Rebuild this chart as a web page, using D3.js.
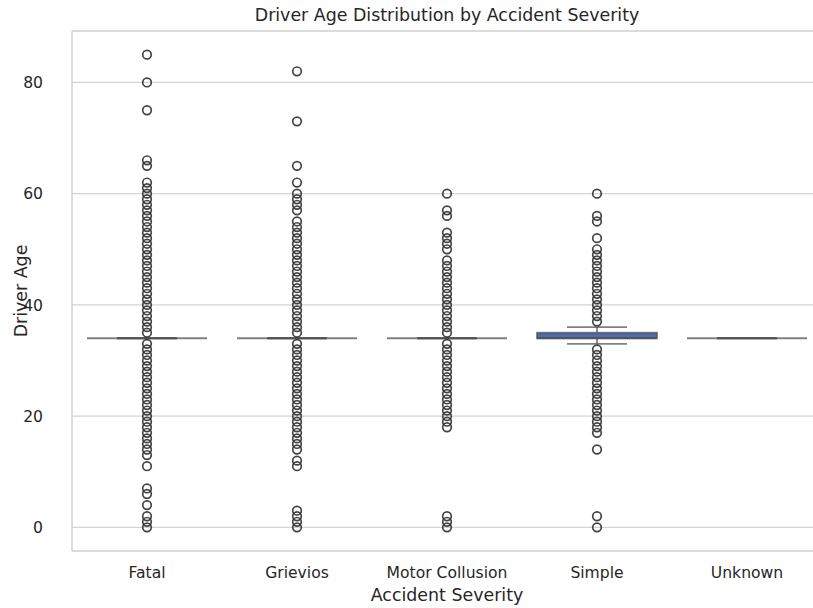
<!DOCTYPE html>
<html>
<head>
<meta charset="utf-8">
<script src="https://cdn.jsdelivr.net/npm/d3@7"></script>
<style>
  html, body { margin: 0; padding: 0; background: #fff; overflow: hidden; }
  svg { display: block; }
  svg text { font-family: "DejaVu Sans", sans-serif; fill: #262626; }
</style>
</head>
<body>
<div id="chart"></div>
<script>
    'use strict';

    var categories = ["Fatal", "Grievios", "Motor Collusion", "Simple", "Unknown"];
    var whiskerLow = [34, 34, 34, 33, 34];
    var q1 = [34, 34, 34, 34, 34];
    var medians = [34, 34, 34, 34, 34];
    var q3 = [34, 34, 34, 35, 34];
    var whiskerHigh = [34, 34, 34, 36, 34];

    var fatalOutliers = [85, 80, 75, 66, 65, 62, 61, 60, 59, 58, 57, 56, 55, 54, 53, 52, 51, 50,
        49, 48, 47, 46, 45, 44, 43, 42, 41, 40, 39, 38, 37, 36, 35, 33, 32, 31, 30, 29, 28, 27,
        26, 25, 24, 23, 22, 21, 20, 19, 18, 17, 16, 15, 14, 13, 11, 7, 6, 4, 2, 1, 0];
    var grieviosOutliers = [82, 73, 65, 62, 60, 59, 58, 57, 55, 54, 53, 52, 51, 50, 49, 48, 47,
        46, 45, 44, 43, 42, 41, 40, 39, 38, 37, 36, 35, 33, 32, 31, 30, 29, 28, 27, 26, 25, 24,
        23, 22, 21, 20, 19, 18, 17, 16, 15, 14, 12, 11, 3, 2, 1, 0];
    var motorOutliers = [60, 57, 56, 53, 52, 51, 50, 48, 47, 46, 45, 44, 43, 42, 41, 40, 39, 38,
        37, 36, 35, 33, 32, 31, 30, 29, 28, 27, 26, 25, 24, 23, 22, 21, 20, 19, 18, 2, 1, 0];
    var simpleOutliers = [60, 56, 55, 52, 50, 49, 48, 47, 46, 45, 44, 43, 42, 41, 40, 39, 38, 37,
        32, 31, 30, 29, 28, 27, 26, 25, 24, 23, 22, 21, 20, 19, 18, 17, 14, 2, 0];
    var unknownOutliers = [];
    var outliers = [fatalOutliers, grieviosOutliers, motorOutliers, simpleOutliers, unknownOutliers];

    var yTicks = [0, 20, 40, 60, 80];

    var width = 813, height = 608;
    var plotLeft = 72, plotRight = 822, plotTop = 31, plotBottom = 551;

    var svg = d3.select('#chart').append('svg')
        .attr('width', width)
        .attr('height', height);

    var x = d3.scaleBand().domain(categories).range([plotLeft, plotRight]).padding(0);
    var y = d3.scaleLinear().domain([-4.25, 89.25]).range([plotBottom, plotTop]);

    // grid
    svg.append('g').selectAll('line')
        .data(yTicks).enter().append('line')
        .attr('x1', plotLeft).attr('x2', plotRight)
        .attr('y1', function(d) { return y(d); })
        .attr('y2', function(d) { return y(d); })
        .attr('stroke', '#d4d4d4').attr('stroke-width', 1.2);

    // spines (the right one falls outside the picture)
    var spines = svg.append('g').attr('stroke', '#cfcfcf').attr('stroke-width', 1.4);
    spines.append('line').attr('x1', plotLeft).attr('x2', plotRight).attr('y1', plotTop).attr('y2', plotTop);
    spines.append('line').attr('x1', plotLeft).attr('x2', plotRight).attr('y1', plotBottom).attr('y2', plotBottom);
    spines.append('line').attr('x1', plotLeft).attr('x2', plotLeft).attr('y1', plotTop).attr('y2', plotBottom);

    function label(g, tx, ty, anchor, size, str, rot) {
        return g.append('text')
            .attr('transform', 'translate(' + tx + ',' + ty + ')' + (rot ? ' rotate(' + rot + ')' : ''))
            .attr('text-anchor', anchor)
            .attr('font-size', size)
            .text(str);
    }

    // y tick labels
    var yl = svg.append('g');
    yTicks.forEach(function(d) {
        label(yl, 43, y(d) + 5.6, 'end', 15.6, d);
    });

    // x tick labels
    var xl = svg.append('g');
    categories.forEach(function(c) {
        label(xl, x(c) + x.bandwidth() / 2, 578, 'middle', 15.6, c);
    });

    label(svg, (plotLeft + plotRight) / 2, 601, 'middle', 17.4, 'Accident Severity');
    label(svg, (plotLeft + plotRight) / 2, 21, 'middle', 17.4, 'Driver Age Distribution by Accident Severity');
    label(svg, 27, y(42.5), 'middle', 17.4, 'Driver Age', -90);

    var boxW = x.bandwidth() * 0.8;
    var capW = boxW / 2;
    var lineColor = '#4a4a4a';
    var lineW = 1.8;

    var boxes = svg.append('g').selectAll('g')
        .data(categories).enter().append('g');

    function seg(g, x1, x2, y1, y2) {
        g.append('line')
            .attr('x1', x1).attr('x2', x2).attr('y1', y1).attr('y2', y2)
            .attr('stroke', lineColor).attr('stroke-opacity', 0.7).attr('stroke-width', lineW);
    }

    boxes.each(function(c, i) {
        var g = d3.select(this);
        var cx = x(c) + x.bandwidth() / 2;
        // whiskers and caps
        seg(g, cx, cx, y(q3[i]), y(whiskerHigh[i]));
        seg(g, cx, cx, y(q1[i]), y(whiskerLow[i]));
        seg(g, cx - capW / 2, cx + capW / 2, y(whiskerLow[i]), y(whiskerLow[i]));
        seg(g, cx - capW / 2, cx + capW / 2, y(whiskerHigh[i]), y(whiskerHigh[i]));
        // box
        g.append('rect')
            .attr('x', cx - boxW / 2).attr('width', boxW)
            .attr('y', y(q3[i])).attr('height', y(q1[i]) - y(q3[i]))
            .attr('fill', '#4f6da8')
            .attr('stroke', lineColor).attr('stroke-opacity', 0.7).attr('stroke-width', lineW);
        seg(g, cx - boxW / 2, cx + boxW / 2, y(medians[i]), y(medians[i]));
        // outliers
        g.selectAll('circle')
            .data(outliers[i]).enter().append('circle')
            .attr('cx', cx)
            .attr('cy', function(d) { return y(d); })
            .attr('r', 4.3)
            .attr('fill', 'none')
            .attr('stroke', '#303030')
            .attr('stroke-opacity', 0.9)
            .attr('stroke-width', 1.7);
    });
</script>
</body>
</html>
